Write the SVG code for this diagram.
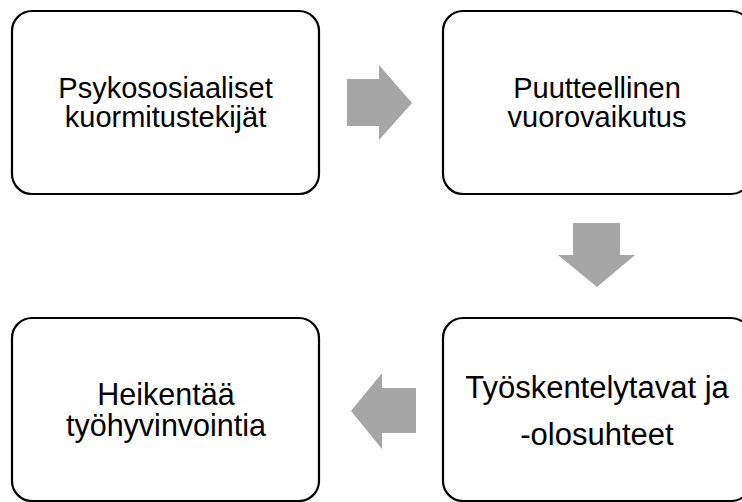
<svg xmlns="http://www.w3.org/2000/svg" width="742" height="502" viewBox="0 0 742 502">
<style>
.box{fill:#fff;stroke:#000;stroke-width:2.2}
.arr{fill:#a6a6a6}
text{font-family:"Liberation Sans",Arial,sans-serif;font-size:29px;fill:#000;text-anchor:middle}
.big{font-size:31px}
.mid{font-size:30.5px}
</style>
<rect width="742" height="502" fill="#fff"/>
<g id="n1"><rect class="box" x="12" y="11" width="307" height="183" rx="20"/>
<text x="165.5" y="98">Psykososiaaliset</text><text x="165.5" y="127">kuormitustekijät</text></g>
<g id="n2"><rect class="box" x="443" y="11" width="308" height="183" rx="20"/>
<text x="597" y="98">Puutteellinen</text><text x="597" y="127">vuorovaikutus</text></g>
<g id="n3"><rect class="box" x="443" y="318" width="308" height="183" rx="20"/>
<text class="big" x="597" y="398">Työskentelytavat ja</text><text class="big" x="597" y="445">-olosuhteet</text></g>
<g id="n4"><rect class="box" x="12" y="318" width="307" height="183" rx="20"/>
<text class="mid" x="166" y="405">Heikentää</text><text class="mid" x="166" y="436">työhyvinvointia</text></g>
<g id="connectors">
<polygon class="arr" points="347,79 379,79 379,65 412,103 379,140 379,126 347,126"/>
<polygon class="arr" points="573,223 620,223 620,255 635,255 597,287 558,255 573,255"/>
<polygon class="arr" points="416,388 382,388 382,373 351,411 382,449 382,433 416,433"/>
</g>
</svg>
